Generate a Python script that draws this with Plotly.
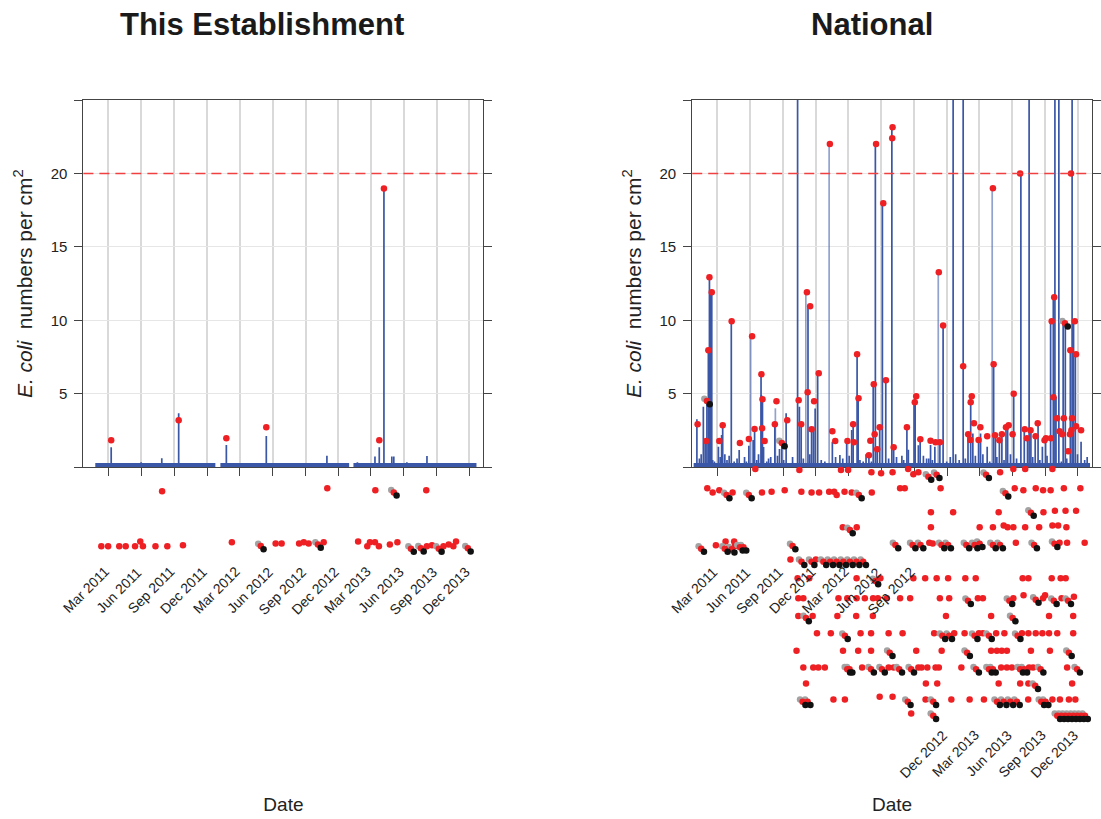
import plotly.graph_objects as go
import pandas as pd

# ---------------- data ----------------
DAY0 = pd.Timestamp("2011-03-01")          # day offsets below are days since this date
LIMIT = 20                                  # action limit (dashed line)

tick_dates = ["2011-03-01", "2011-06-01", "2011-09-01", "2011-12-01", "2012-03-01", "2012-06-01",
              "2012-09-01", "2012-12-01", "2013-03-01", "2013-06-01", "2013-09-01", "2013-12-01"]
tick_labels = ["Mar 2011", "Jun 2011", "Sep 2011", "Dec 2011", "Mar 2012", "Jun 2012",
               "Sep 2012", "Dec 2012", "Mar 2013", "Jun 2013", "Sep 2013", "Dec 2013"]
y_tick_vals = [5, 10, 15, 20]
y_tick_text = ["5", "10", "15", "20"]
y_corner_ticks = [0, 25]

# ---- This Establishment ----
est_spike_days = [7.5, 91, 148.6, 195.7, 328.6, 440, 609, 694, 743, 755, 768, 790, 795.5, 832, 888, 972.7]
est_spike_vals = [1.37, 0.35, 0.62, 3.68, 1.52, 2.14, 0.80, 0.35, 0.75, 1.37, 19.0, 0.75, 0.75, 0.35, 0.78, 0.30]
est_band_start = [-36.8, 312, 683]
est_band_end = [298, 671, 1026]
est_band_level = 0.13
est_flag_days = [7.5, 195.7, 328.6, 440, 755, 768]
est_flag_vals = [1.85, 3.2, 1.98, 2.73, 1.85, 18.97]
est_dot_days = [149.5, 610, 744, 886,
                -20, -1, 30, 48, 74, 88.6, 96, 131, 164, 207.6, 344, 466, 482.7, 531.5, 544.5, 558,
                600, 696, 721.6, 729, 743, 754, 784.5, 805.5, 887.7, 902, 934, 948.6, 961.6, 969]
est_dot_vals = [-1.63, -1.42, -1.56, -1.56,
                -5.37, -5.37, -5.37, -5.37, -5.37, -5.04, -5.37, -5.37, -5.37, -5.30, -5.10, -5.17, -5.17,
                -5.17, -5.10, -5.17, -5.10, -5.04, -5.37, -5.10, -5.10, -5.37, -5.25, -5.10, -5.37, -5.30,
                -5.37, -5.25, -5.37, -5.04]
est_trip_days = [795.5, 424.6, 584, 843.4, 871, 921, 1002]
est_trip_vals = [-1.70, -5.35, -5.25, -5.53, -5.51, -5.53, -5.51]

# ---- National ----
nat_spike_days = [-57, -39, -34, -29, -25, -22, -19, -15.5, -13, 3, 12, 15, 21, 39, 61, 81, 88, 100, 104, 122,
                  123, 126, 129, 149, 160.5, 173.5, 180, 192, 224, 229, 234, 253, 263, 268, 273, 280, 321, 342,
                  361, 375, 379, 390, 393, 407, 423, 435, 441, 446, 453, 460.6, 470, 487, 492, 515, 529, 533,
                  549, 552, 561, 566, 584, 595, 607, 621, 630, 644, 658, 686, 699.5, 707, 713, 729, 734.5, 741,
                  753, 771, 776, 787, 794, 805.5, 810, 827, 847, 856.5, 865.6, 870, 875, 887, 895, 907, 916,
                  930, 937.5, 942, 945, 953, 965, 971, 985, 990, 994, 999, 1015]
nat_spike_vals = [3.27, 4.13, 1.8, 4.5, 7.97, 12.94, 12.0, 11.92, 0.5, 1.41, 2.2, 2.87, 0.9, 9.95, 1.18, 0.4,
                  1.48, 1.87, 2.61, 6.34, 4.93, 4.64, 1.38, 0.7, 2.93, 1.25, 1.66, 3.68, 40, 4.13, 2.93, 10.97,
                  2.59, 2.77, 4.0, 6.41, 1.75, 0.84, 1.64, 2.55, 2.93, 7.70, 4.7, 0.4, 0.84, 5.66, 22.0, 1.23,
                  2.77, 17.98, 5.95, 23.15, 1.41, 0.8, 2.77, 1.2, 4.47, 4.84, 1.5, 1.9, 0.6, 1.52, 1.4, 1.7,
                  9.65, 0.3, 40, 40, 2.2, 4.84, 2.3, 1.9, 2.3, 0.9, 1.4, 7.02, 2.2, 1.8, 2.2, 2.77, 2.9, 5.04,
                  20.0, 2.6, 1.9, 40, 2.55, 2.0, 3.0, 1.4, 1.9, 9.95, 11.58, 40, 4.8, 40, 9.8, 9.8, 7.97, 40,
                  9.95, 7.7, 1.75]
nat_light_days = [93, 162, 247, 312, 616.5, 767]
nat_light_vals = [8.92, 4.02, 11.92, 22.0, 13.28, 19.0]
nat_small_days = [-50, -45, -8, 8, 27, 33, 47, 55, 70, 76, 110, 115, 138, 143, 168, 185, 200, 210, 240, 258,
                  290, 300, 330, 350, 368, 398, 415, 430, 478, 500, 520, 540, 575, 590, 600, 640, 650, 665,
                  675, 692, 720, 760, 780, 800, 818, 835, 880, 900, 920, 960, 975, 1005, 1025, 1032]
nat_small_vals = [0.6, 0.9, 0.4, 0.7, 0.5, 0.8, 0.4, 0.6, 0.3, 0.7, 0.5, 0.9, 0.4, 0.6, 0.8, 0.5, 0.3, 0.7,
                  0.6, 0.9, 0.5, 0.4, 0.7, 0.6, 0.8, 0.5, 0.9, 0.4, 0.6, 0.7, 0.5, 0.3, 0.8, 0.6, 0.5, 0.4,
                  0.7, 0.9, 0.5, 0.6, 0.8, 0.4, 0.7, 0.5, 0.9, 0.6, 0.7, 0.5, 0.8, 0.4, 0.6, 0.9, 0.5, 0.7]
nat_band_start = [-66]
nat_band_end = [1040]
nat_band_level = 0.13

nat_flag_days = [-55, -31, -25, -22, -15.5, 5.5, 15, 40, 63, 88, 97, 104, 123, 126, 125, 132, 160.5, 165, 195,
                 227, 234, 250, 252, 259, 263, 270, 283, 314, 321, 329, 363, 379, 381, 390, 394, 423, 427,
                 436.5, 439, 443, 446, 453, 463, 470.5, 489, 488, 492, 529, 551, 555, 566.5, 595, 609, 618,
                 621, 630, 686, 700, 707, 710, 706, 716, 729, 734, 753, 769, 771, 775, 787, 794, 805.5, 813,
                 824, 827, 845, 858, 864, 874, 888, 894, 913, 917, 931, 933, 938, 940, 948, 955, 962, 967,
                 979, 985, 987, 984, 990, 988, 997.5, 1001, 1001, 1015]
nat_flag_vals = [2.93, 1.80, 7.97, 12.94, 11.92, 1.80, 2.87, 9.95, 1.66, 1.93, 8.92, 2.61, 6.34, 4.64, 2.66,
                 1.80, 2.93, 4.50, 3.21, 4.57, 2.93, 11.92, 5.11, 10.97, 2.59, 4.50, 6.41, 22.0, 2.46, 1.80,
                 1.80, 2.93, 1.71, 7.70, 4.70, 0.82, 1.82, 5.66, 2.25, 22.0, 1.23, 2.73, 17.98, 5.93, 23.15,
                 22.40, 1.37, 2.73, 4.43, 4.84, 1.91, 1.82, 1.71, 13.28, 1.71, 9.65, 6.88, 2.25, 4.43, 4.84,
                 1.87, 3.0, 1.87, 2.73, 2.12, 19.0, 7.02, 2.18, 1.84, 2.25, 2.73, 2.87, 2.25, 5.02, 20.0,
                 2.59, 1.98, 2.53, 2.12, 3.0, 1.84, 1.98, 1.98, 9.95, 4.77, 11.58, 3.34, 2.46, 2.25, 3.34,
                 1.10, 7.97, 20.0, 2.25, 3.34, 2.53, 9.95, 7.70, 2.80, 2.53]

nat_dot_days = [106, 229, 345, 365, 430, 457, 489, 532.5, 547, 561, 789, 826, 859, 935,
                -28, -13, 5.5, 42.6, 124.6, 151.4, 188, 234.5, 263, 284, 312, 326, 333, 355, 375, 431, 510,
                523, 623, 830, 854, 888.5, 909, 930, 967, 1013,
                596, 658, 785, 910, 942, 971.6, 1001,
                350, 389, 596, 732, 769, 799, 810, 826, 859, 898, 935, 951, 974,
                -4, 23, 47, 49, 591.5, 601, 833, 955, 976, 1025,
                204, 275,
                224, 256.6, 388.6, 455, 547, 580, 612, 644, 692, 721, 852, 868, 933, 958, 972,
                226, 240, 338, 362.6, 388.6, 411.6, 434.6, 448, 473, 510, 538, 621, 647, 727, 741, 826, 854.5,
                909, 914.6, 960.5, 995,
                226, 266, 335, 387.5, 434, 638, 764, 925.6, 993,
                278, 316.7, 399.7, 429, 478, 517, 605, 661, 690, 730, 741, 778, 801, 850, 868, 888.5, 907,
                925.6, 948.5, 993,
                221, 350.7, 393, 429, 555, 626, 764, 780, 793.6, 808, 875, 928,
                240, 267.7, 282, 300, 404, 478, 492, 561, 570, 586, 609, 618, 681, 792, 808, 822, 870, 881, 976,
                247.5, 582, 613.6, 785, 845, 868, 990,
                324, 356, 453, 489, 581, 653, 704, 744, 867.5, 935, 956, 981, 999,
                541]
nat_dot_vals = [-0.11, -0.18, -0.18, -0.18, -0.33, -0.40, -0.33, -0.11, -0.47, -0.33, -0.33, -0.11, -0.11, -0.11,
                -1.42, -1.70, -1.56, -1.70, -1.70, -1.65, -1.56, -1.65, -1.70, -1.70, -1.65, -1.65, -1.88, -1.65,
                -1.70, -1.70, -1.42, -1.42, -1.42, -1.42, -1.56, -1.42, -1.56, -1.56, -1.42, -1.42,
                -3.06, -3.06, -3.06, -3.06, -2.95, -2.95, -2.95,
                -4.08, -4.08, -4.08, -4.08, -4.08, -3.95, -4.08, -4.08, -4.08, -4.08, -3.95, -3.95, -4.08,
                -5.30, -5.04, -5.04, -5.35, -5.13, -5.17, -5.13, -5.13, -5.13, -5.13,
                -6.26, -6.26,
                -7.55, -7.55, -7.55, -7.55, -7.55, -7.55, -7.55, -7.55, -7.55, -7.55, -7.55, -7.55, -7.55,
                -7.55, -7.55,
                -8.91, -8.91, -8.91, -8.91, -8.91, -8.91, -8.91, -8.91, -8.91, -8.91, -8.91, -8.91, -8.91,
                -8.91, -8.91, -8.91, -8.70, -8.91, -8.70, -8.91, -8.80,
                -10.12, -10.12, -10.12, -10.12, -10.12, -10.12, -10.12, -10.12, -10.12,
                -11.29, -11.29, -11.29, -11.29, -11.29, -11.29, -11.29, -11.29, -11.29, -11.29, -11.29, -11.29,
                -11.29, -11.29, -11.29, -11.29, -11.29, -11.29, -11.29, -11.29,
                -12.48, -12.48, -12.48, -12.48, -12.48, -12.48, -12.48, -12.48, -12.48, -12.48, -12.48, -12.48,
                -13.61, -13.61, -13.61, -13.61, -13.61, -13.61, -13.61, -13.61, -13.61, -13.61, -13.61, -13.61,
                -13.61, -13.61, -13.61, -13.61, -13.61, -13.61, -13.61,
                -14.70, -14.70, -14.70, -14.70, -14.70, -14.70, -14.70,
                -15.79, -15.79, -15.60, -15.60, -15.79, -15.79, -15.79, -15.79, -15.79, -15.79, -15.79, -15.79,
                -15.79,
                -16.74]
nat_trip_days = [-29, 180, 970, 589, 612, 750,
                 26, 88, 395, 804,
                 875,
                 370,
                 -45, 21, 40, 63, 73, 210, 497, 545, 567, 625.6, 644, 695, 718, 732, 769, 789, 884, 941,
                 235, 263, 296, 315, 333, 351.5, 370, 388.6, 407,
                 441,
                 699.5, 815, 888.5, 939, 979,
                 247.5, 824,
                 356, 628, 647, 718, 758, 838,
                 481, 697, 981,
                 362.6, 369, 429, 459.5, 507.6, 541, 722, 758, 769, 845, 856.5, 902, 1004,
                 887,
                 238, 252, 531.5, 602.6, 780.6, 799, 817.7, 836, 904, 916,
                 602.6, 948.6, 959.7, 970.7, 981.8, 993, 1004, 1015, 1026]
nat_trip_vals = [4.52, 1.66, 9.81, -0.63, -0.50, -0.50,
                 -1.88, -1.88, -1.88, -1.76,
                 -3.08,
                 -4.26,
                 -5.53, -5.53, -5.57, -5.44, -5.44, -5.35, -5.28, -5.28, -5.28, -5.28, -5.28, -5.28, -5.28,
                 -5.20, -5.28, -5.28, -5.28, -5.20,
                 -6.42, -6.42, -6.42, -6.42, -6.42, -6.42, -6.42, -6.42, -6.42,
                 -7.73,
                 -9.07, -9.07, -9.00, -9.07, -9.07,
                 -10.25, -10.25,
                 -11.46, -11.46, -11.46, -11.46, -11.46, -11.46,
                 -12.61, -12.61, -12.61,
                 -13.74, -13.74, -13.74, -13.74, -13.74, -13.74, -13.74, -13.74, -13.74, -13.74, -13.74,
                 -13.74, -13.74,
                 -14.86,
                 -15.95, -15.95, -15.95, -15.95, -15.95, -15.95, -15.95, -15.95, -15.95, -15.95,
                 -16.90, -16.90, -16.90, -16.90, -16.90, -16.90, -16.90, -16.90, -16.90]

# ---------------- styles ----------------
FONT = "Liberation Sans, Arial, Helvetica, sans-serif"
BLUE = "#3a56a6"
RED = "#ee2024"
GRAY = "#a3a3a3"
BLACK = "#111111"
GRAY_SHIFT = (-7.2, 0.157)    # shadow offset (days, value)
BLACK_SHIFT = (7.8, -0.218)

W, H = 1101, 819
PLOT_TOP, PLOT_BOTTOM = 100, 467.4          # pixel rows of the value axis (25 .. 0)
Y_MAX = 25
X_RANGE = [DAY0 - pd.Timedelta(days=70), DAY0 + pd.Timedelta(days=1045.5)]

# overlay axis reaching down to the bottom of the page with the same value scale
px_per_unit = (PLOT_BOTTOM - PLOT_TOP) / Y_MAX
OVER_BOTTOM = Y_MAX - (H - PLOT_TOP) / px_per_unit


def dates(days):
    return [DAY0 + pd.Timedelta(days=float(d)) for d in days]


def spikes(days, vals):
    xs, ys = [], []
    for t, v in zip(dates(days), vals):
        xs += [t, t, None]
        ys += [0, v, None]
    return xs, ys


def band(starts, ends, level):
    xs, ys = [], []
    for s, e in zip(dates(starts), dates(ends)):
        xs += [s, e, None]
        ys += [level, level, None]
    return xs, ys


fig = go.Figure()


def add_panel(xa, ya, xo, yo, spike_sets, band_xy, flag_d, flag_v, dot_d, dot_v, trip_d, trip_v):
    for (d, v, op) in spike_sets:
        sx, sy = spikes(d, v)
        fig.add_trace(go.Scatter(x=sx, y=sy, mode="lines", xaxis=xa, yaxis=ya, opacity=op,
                                 line=dict(color=BLUE, width=1.7), hoverinfo="skip"))
    bx, by = band_xy
    fig.add_trace(go.Scatter(x=bx, y=by, mode="lines", xaxis=xa, yaxis=ya,
                             line=dict(color=BLUE, width=5), hoverinfo="skip"))
    mk = dict(size=6.5, line=dict(width=0))
    fig.add_trace(go.Scatter(x=dates(flag_d), y=flag_v, mode="markers", xaxis=xo, yaxis=yo,
                             cliponaxis=False, marker=dict(color=RED, **mk)))
    fig.add_trace(go.Scatter(x=dates(dot_d), y=dot_v, mode="markers", xaxis=xo, yaxis=yo,
                             cliponaxis=False, marker=dict(color=RED, **mk)))
    gd = [d + GRAY_SHIFT[0] for d in trip_d]
    gv = [v + GRAY_SHIFT[1] for v in trip_v]
    kd = [d + BLACK_SHIFT[0] for d in trip_d]
    kv = [v + BLACK_SHIFT[1] for v in trip_v]
    fig.add_trace(go.Scatter(x=dates(gd), y=gv, mode="markers", xaxis=xo, yaxis=yo,
                             cliponaxis=False, marker=dict(color=GRAY, **mk)))
    fig.add_trace(go.Scatter(x=dates(trip_d), y=trip_v, mode="markers", xaxis=xo, yaxis=yo,
                             cliponaxis=False, marker=dict(color=RED, **mk)))
    fig.add_trace(go.Scatter(x=dates(kd), y=kv, mode="markers", xaxis=xo, yaxis=yo,
                             cliponaxis=False, marker=dict(color=BLACK, **mk)))


add_panel("x", "y", "x3", "y3",
          [(est_spike_days, est_spike_vals, 1.0)],
          band(est_band_start, est_band_end, est_band_level),
          est_flag_days, est_flag_vals, est_dot_days, est_dot_vals, est_trip_days, est_trip_vals)
add_panel("x2", "y2", "x4", "y4",
          [(nat_small_days, nat_small_vals, 1.0), (nat_light_days, nat_light_vals, 0.55),
           (nat_spike_days, nat_spike_vals, 1.0)],
          band(nat_band_start, nat_band_end, nat_band_level),
          nat_flag_days, nat_flag_vals, nat_dot_days, nat_dot_vals, nat_trip_days, nat_trip_vals)

# ---------------- layout ----------------
y_dom = [1 - PLOT_BOTTOM / H, 1 - PLOT_TOP / H]
over_dom = [0, 1 - PLOT_TOP / H]
dom_left = [84 / W, 487 / W]
dom_right = [697.3 / W, 1100 / W]

ytitle = "<i>E. coli</i>  numbers per cm<sup>2</sup>"
ytitle_font = dict(family=FONT, size=21, color="#222")
axis_font = dict(family=FONT, size=19, color="#222")

xaxis_common = dict(type="date", range=X_RANGE, tickvals=tick_dates, showticklabels=False,
                    ticks="outside", ticklen=8, tickcolor="#444", showline=True, linecolor="#444",
                    linewidth=1, mirror=True, showgrid=True, gridcolor="#d9d9d9", gridwidth=2,
                    zeroline=False, fixedrange=True,
                    title=dict(text="Date", font=axis_font, standoff=322))
yaxis_common = dict(range=[0, Y_MAX], tickvals=y_tick_vals, ticktext=y_tick_text, ticks="outside",
                    ticklen=8, tickcolor="#444", showline=True, linecolor="#444", linewidth=1,
                    mirror="ticks", showgrid=True, gridcolor="#e6e6e6", gridwidth=1.2, zeroline=False,
                    minor=dict(tickvals=y_corner_ticks, ticks="outside", ticklen=8, tickcolor="#444",
                               showgrid=False),
                    ticklabelstandoff=4,
                    tickfont=dict(family=FONT, size=15, color="#222"), domain=y_dom,
                    title=dict(text=ytitle, font=ytitle_font, standoff=12))
x_over = dict(type="date", range=X_RANGE, visible=False, showgrid=False, zeroline=False, fixedrange=True)
y_over = dict(range=[OVER_BOTTOM, Y_MAX], visible=False, showgrid=False, zeroline=False,
              domain=over_dom, fixedrange=True)

fig.update_layout(
    width=W, height=H, margin=dict(l=0, r=0, t=0, b=0),
    paper_bgcolor="white", plot_bgcolor="rgba(0,0,0,0)", showlegend=False,
    xaxis=dict(domain=dom_left, anchor="y", **xaxis_common),
    yaxis=dict(anchor="x", **yaxis_common),
    xaxis2=dict(domain=dom_right, anchor="y2", **xaxis_common),
    yaxis2=dict(anchor="x2", **yaxis_common),
    xaxis3=dict(domain=dom_left, anchor="y3", **x_over),
    yaxis3=dict(anchor="x3", **y_over),
    xaxis4=dict(domain=dom_right, anchor="y4", **x_over),
    yaxis4=dict(anchor="x4", **y_over),
)

shapes = []
for xa, ya in (("x", "y"), ("x2", "y2")):
    shapes.append(dict(type="line", xref=f"{xa} domain", yref=ya, x0=0, x1=1, y0=LIMIT, y1=LIMIT,
                       line=dict(color="#f04040", width=1.3, dash="10px,6px")))
fig.update_layout(shapes=shapes)

ann = []
label_font = dict(family=FONT, size=14, color="#222")
upper_y = 1 - 561 / H
lower_y = 1 - 724 / H
for d, lab in zip(tick_dates, tick_labels):
    ann.append(dict(x=d, y=upper_y, xref="x", yref="paper", text=lab, textangle=-45,
                    xanchor="right", yanchor="top", showarrow=False, xshift=6, font=label_font))
    y2 = upper_y if pd.Timestamp(d) < pd.Timestamp("2012-11-01") else lower_y
    ann.append(dict(x=d, y=y2, xref="x2", yref="paper", text=lab, textangle=-45,
                    xanchor="right", yanchor="top", showarrow=False, xshift=6, font=label_font))

title_font = dict(family=FONT, size=31, color="#1a1a1a")
ann.append(dict(x=264 / W, y=1 - 24 / H, xref="paper", yref="paper", text="<b>This Establishment</b>",
                showarrow=False, xanchor="center", yanchor="middle", font=title_font))
ann.append(dict(x=878 / W, y=1 - 24 / H, xref="paper", yref="paper", text="<b>National</b>",
                showarrow=False, xanchor="center", yanchor="middle", font=title_font))
fig.update_layout(annotations=ann)

fig.write_html("out.html")
